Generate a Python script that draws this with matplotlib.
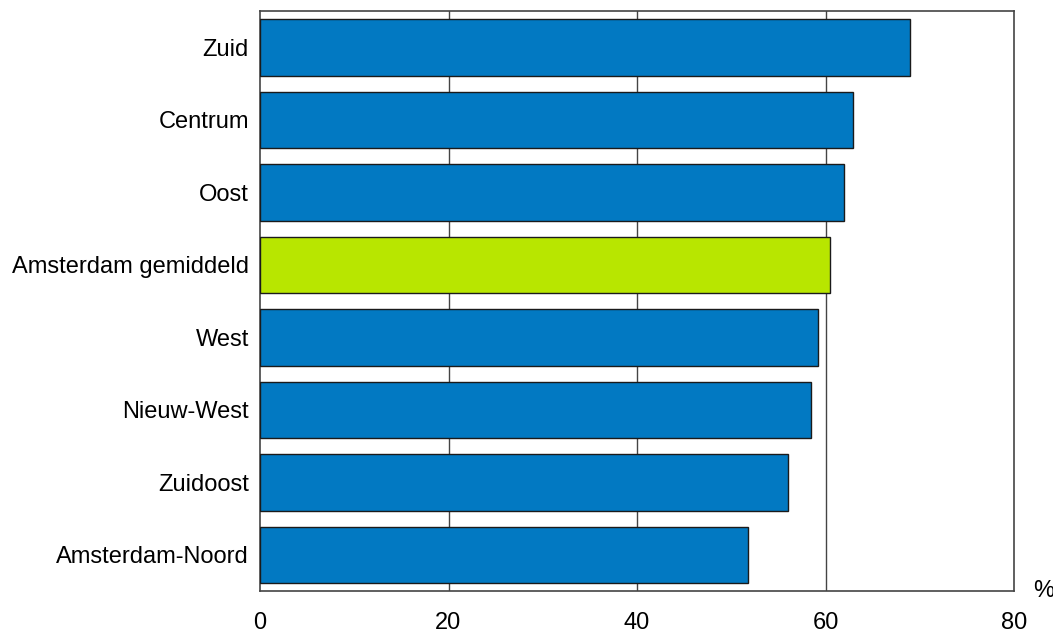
import matplotlib
matplotlib.use("Agg")
import matplotlib.pyplot as plt

plt.rcParams['font.family'] = ['Liberation Sans', 'DejaVu Sans']

categories = ["Zuid", "Centrum", "Oost", "Amsterdam gemiddeld", "West",
              "Nieuw-West", "Zuidoost", "Amsterdam-Noord"]
values = [69.0, 62.9, 62.0, 60.5, 59.2, 58.5, 56.0, 51.8]
highlight = "Amsterdam gemiddeld"
xticks = [0, 20, 40, 60, 80]

blue = "#0279C2"
green = "#B8E600"
colors = [green if c == highlight else blue for c in categories]

fig = plt.figure(figsize=(10.53, 6.41), dpi=100)
ax = fig.add_axes([260/1053, 1 - 591/641, (1014-260)/1053, (591-11.3)/641])

ypos = list(range(len(categories)))
ax.barh(ypos, values, height=0.78, color=colors, edgecolor="#1a1a1a",
        linewidth=1.0, zorder=3)
ax.set_ylim(len(categories) - 0.5, -0.5)
ax.set_xlim(0, 80)
ax.set_yticks(ypos)
ax.set_yticklabels(categories, fontsize=17)
ax.set_xticks(xticks)
ax.set_xticklabels([str(t) for t in xticks], fontsize=17)
ax.tick_params(axis='y', length=0, pad=8)
ax.tick_params(axis='x', length=0, pad=15)
for t in xticks[1:-1]:
    ax.axvline(t, color="#444444", linewidth=1.0, zorder=1)
for s in ax.spines.values():
    s.set_color("#444444")
    s.set_linewidth(1.2)
ax.text(1.04, 0.0, "%", transform=ax.transAxes, fontsize=17,
        ha='center', va='center')

fig.savefig("out.png", dpi=100)
